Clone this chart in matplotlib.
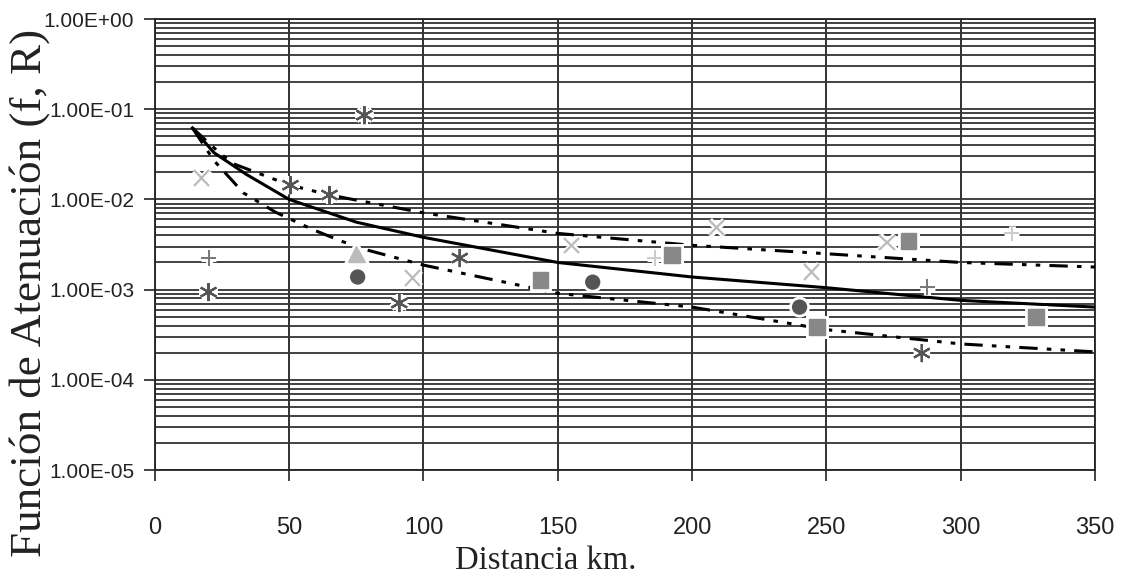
import matplotlib
matplotlib.use("Agg")
import matplotlib.pyplot as plt
import matplotlib.patheffects as pe
from matplotlib.ticker import FixedLocator, LogLocator, NullFormatter

# fitted curves
mid_x = [14, 22, 34, 50, 75, 100, 150, 200, 250, 300, 350]
mid_y = [0.062, 0.033, 0.019, 0.010, 5.6e-3, 3.8e-3, 2.0e-3, 1.38e-3, 1.05e-3, 7.6e-4, 6.4e-4]

up_x = [14, 24, 29, 50, 65, 100, 150, 200, 250, 300, 350]
up_y = [0.062, 0.033, 0.025, 0.0145, 0.0112, 7.1e-3, 4.2e-3, 3.1e-3, 2.5e-3, 2.0e-3, 1.78e-3]

low_x = [14, 22, 33, 45, 59, 70, 79, 100, 150, 200, 250, 300, 350]
low_y = [0.062, 0.027, 0.0118, 7.2e-3, 4.6e-3, 3.4e-3, 2.75e-3, 1.87e-3, 9.1e-4, 6.4e-4, 3.6e-4, 2.5e-4, 2.04e-4]

# observed points
ast_x = [78, 50.5, 65, 20, 91, 113.5, 285.5]
ast_y = [0.086, 0.0144, 0.0112, 9.4e-4, 7.1e-4, 2.24e-3, 1.98e-4]

xl_x = [17.5, 96, 155, 209, 244.5, 272.5]
xl_y = [0.0173, 1.35e-3, 3.1e-3, 4.9e-3, 1.57e-3, 3.3e-3]

plus_x = [20, 287.5]
plus_y = [2.24e-3, 1.07e-3]

plusl_x = [319, 186]
plusl_y = [4.2e-3, 2.24e-3]

circ_x = [75.5, 163, 240]
circ_y = [1.38e-3, 1.21e-3, 6.4e-4]

sq_x = [143.5, 192.5, 280.5, 246.5, 328]
sq_y = [1.28e-3, 2.42e-3, 3.46e-3, 3.85e-4, 4.97e-4]

tri_x = [75]
tri_y = [2.48e-3]

xticks = [0, 50, 100, 150, 200, 250, 300, 350]
yticks = [1e-5, 1e-4, 1e-3, 1e-2, 1e-1, 1e0]
ylabels = ["1.00E-05", "1.00E-04", "1.00E-03", "1.00E-02", "1.00E-01", "1.00E+00"]

fig = plt.figure(figsize=(11.22, 5.82), dpi=100)
ax = fig.add_axes([0.138, 0.1924, 0.838, 0.7749])
ax.set_yscale("log")
ax.set_xlim(0, 350)
ax.set_ylim(1e-5, 1)

ax.yaxis.set_major_locator(FixedLocator(yticks))
ax.yaxis.set_minor_locator(LogLocator(base=10, subs=range(2, 10)))
ax.yaxis.set_minor_formatter(NullFormatter())
ax.set_yticklabels(ylabels)
ax.set_xticks(xticks)
ax.set_xticklabels([str(t) for t in xticks])

ax.grid(True, which="both", axis="y", color="#333333", lw=1.3)
ax.grid(True, which="major", axis="x", color="#222222", lw=1.3)
ax.set_axisbelow(True)
for s in ax.spines.values():
    s.set_color("#222222")
    s.set_linewidth(1.3)

ax.tick_params(axis="y", which="major", length=8, width=1.2, pad=7, labelsize=15, colors="#222222")
ax.tick_params(axis="y", which="minor", length=0)
ax.tick_params(axis="x", length=8, width=1.2, pad=26, labelsize=17, colors="#222222")
for lab in ax.get_xticklabels() + ax.get_yticklabels():
    lab.set_fontfamily(["Liberation Sans", "DejaVu Sans"])

ax.plot(mid_x, mid_y, color="black", lw=2.2, zorder=3)
ax.plot(up_x, up_y, color="black", lw=2.2, dashes=(6, 3, 1.5, 3, 1.5, 3), zorder=3)
ax.plot(low_x, low_y, color="black", lw=2.2, dashes=(6, 3, 1.5, 3, 1.5, 3), zorder=3)

halo = [pe.Stroke(linewidth=5, foreground="white"), pe.Normal()]
ax.plot(ast_x, ast_y, ls="none", marker=(6, 2, 0), ms=13, mew=1.6, color="#555555", path_effects=halo, zorder=4)
ax.plot(xl_x, xl_y, ls="none", marker="x", ms=11, mew=1.6, color="#bbbbbb", path_effects=halo, zorder=4)
ax.plot(plus_x, plus_y, ls="none", marker="+", ms=11, mew=1.4, color="#777777", path_effects=halo, zorder=4)
ax.plot(plusl_x, plusl_y, ls="none", marker="+", ms=11, mew=1.4, color="#cccccc", path_effects=halo, zorder=4)
ax.plot(circ_x, circ_y, ls="none", marker="o", ms=10, color="#555555", mec="#555555", path_effects=halo, zorder=4)
ax.plot(sq_x, sq_y, ls="none", marker="s", ms=11, color="#888888", mec="#888888", path_effects=halo, zorder=4)
ax.plot(tri_x, tri_y, ls="none", marker="^", ms=12, color="#bbbbbb", mec="#bbbbbb", path_effects=halo, zorder=4)

fig.text(0.026, 0.497, "Función de Atenuación (f, R)", rotation=90, ha="center", va="center",
         fontsize=32.5, family=["Liberation Serif", "DejaVu Serif"], color="#222222")
fig.text(0.486, 0.037, "Distancia km.", ha="center", va="center",
         fontsize=23.5, family=["Liberation Serif", "DejaVu Serif"], color="#222222")

fig.savefig("out.png", dpi=100)
